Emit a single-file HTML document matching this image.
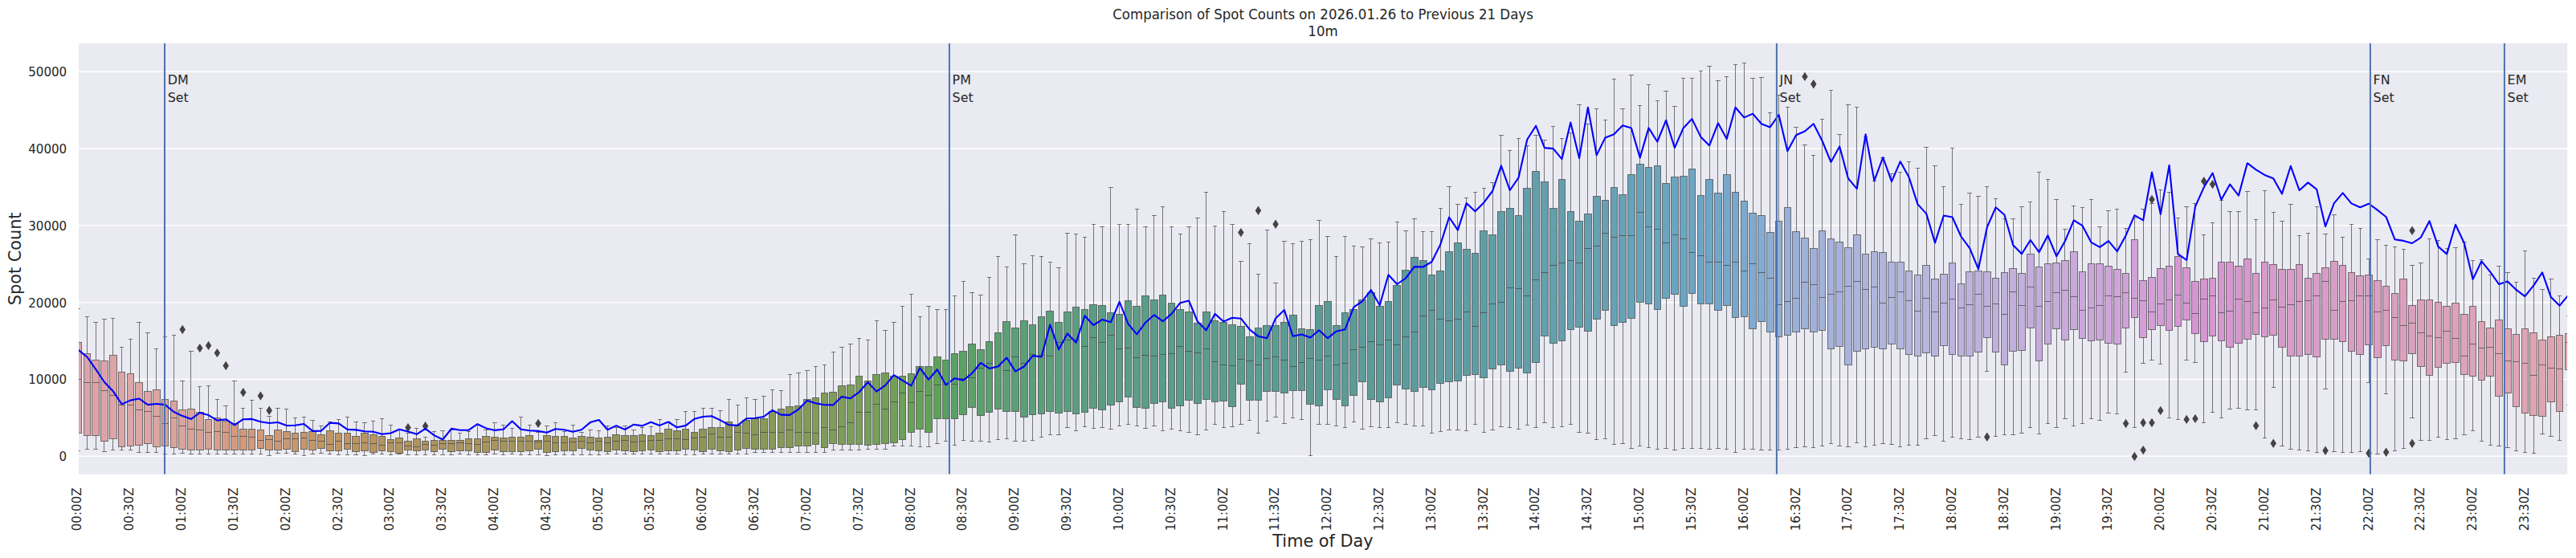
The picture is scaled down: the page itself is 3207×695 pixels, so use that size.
<!DOCTYPE html>
<html lang="en"><head><meta charset="utf-8"><title>Comparison of Spot Counts</title>
<style>html,body{margin:0;padding:0;background:#fff}svg{display:block}</style></head>
<body>
<svg width="3207" height="695" viewBox="0 0 3207 695">
<defs><clipPath id="ax"><rect x="98.0" y="53.8" width="3098.1" height="537.0"/></clipPath></defs>
<rect width="3207" height="695" fill="#fff"/>
<rect x="98.0" y="53.8" width="3098.1" height="537.0" fill="#eaeaf2"/>
<path d="M98.0 568.3H3196.1M98.0 472.5H3196.1M98.0 376.7H3196.1M98.0 280.8H3196.1M98.0 185H3196.1M98.0 89.2H3196.1" stroke="#fff" stroke-width="1.4" fill="none"/>
<g clip-path="url(#ax)">
<g stroke="#444" stroke-opacity="0.71" stroke-width="1">
<rect x="93.5" y="426.5" width="8" height="113" fill="#dba4ad"/>
<rect x="104.5" y="440.5" width="8" height="102" fill="#dba4ab"/>
<rect x="114.5" y="448.5" width="9" height="94" fill="#dca4aa"/>
<rect x="125.5" y="449.5" width="9" height="100" fill="#dca4a9"/>
<rect x="136.5" y="442.5" width="9" height="104" fill="#dca5a8"/>
<rect x="147.5" y="463.5" width="8" height="93" fill="#dca5a7"/>
<rect x="158.5" y="465.5" width="8" height="90" fill="#dca6a6"/>
<rect x="168.5" y="476.5" width="9" height="78" fill="#dda6a5"/>
<rect x="179.5" y="487.5" width="9" height="65" fill="#dca6a3"/>
<rect x="190.5" y="485.5" width="9" height="71" fill="#dba5a0"/>
<rect x="201.5" y="497.5" width="8" height="58" fill="#daa59f"/>
<rect x="212.5" y="499.5" width="8" height="58" fill="#daa49d"/>
<rect x="222.5" y="510.5" width="9" height="49" fill="#d9a49b"/>
<rect x="233.5" y="509.5" width="9" height="51" fill="#d8a399"/>
<rect x="244.5" y="513.5" width="9" height="47" fill="#d7a296"/>
<rect x="255.5" y="522.5" width="8" height="37" fill="#d6a193"/>
<rect x="266.5" y="520.5" width="8" height="40" fill="#d59f8d"/>
<rect x="276.5" y="524.5" width="9" height="36" fill="#d49c86"/>
<rect x="287.5" y="527.5" width="9" height="33" fill="#d39a7f"/>
<rect x="298.5" y="534.5" width="9" height="26" fill="#d29a7d"/>
<rect x="309.5" y="534.5" width="8" height="26" fill="#d09a7c"/>
<rect x="320.5" y="535.5" width="8" height="23" fill="#cf9a7a"/>
<rect x="330.5" y="542.5" width="9" height="18" fill="#cd9977"/>
<rect x="341.5" y="535.5" width="9" height="25" fill="#cb9975"/>
<rect x="352.5" y="537.5" width="9" height="22" fill="#c99872"/>
<rect x="363.5" y="539.5" width="8" height="23" fill="#c7976f"/>
<rect x="374.5" y="538.5" width="8" height="21" fill="#c5976c"/>
<rect x="384.5" y="537.5" width="9" height="23" fill="#c3966a"/>
<rect x="395.5" y="541.5" width="9" height="17" fill="#c19667"/>
<rect x="406.5" y="536.5" width="9" height="25" fill="#c09564"/>
<rect x="417.5" y="539.5" width="8" height="22" fill="#be9462"/>
<rect x="428.5" y="539.5" width="8" height="20" fill="#bc9461"/>
<rect x="438.5" y="543.5" width="9" height="19" fill="#ba9461"/>
<rect x="449.5" y="539.5" width="9" height="22" fill="#b99461"/>
<rect x="460.5" y="541.5" width="9" height="22" fill="#b79460"/>
<rect x="471.5" y="543.5" width="8" height="18" fill="#b69460"/>
<rect x="482.5" y="547.5" width="8" height="15" fill="#b49460"/>
<rect x="492.5" y="545.5" width="9" height="19" fill="#b3945f"/>
<rect x="503.5" y="549.5" width="9" height="11" fill="#b2945f"/>
<rect x="514.5" y="546.5" width="9" height="15" fill="#b0945f"/>
<rect x="525.5" y="549.5" width="8" height="11" fill="#af945f"/>
<rect x="536.5" y="548.5" width="8" height="14" fill="#ae945e"/>
<rect x="546.5" y="548.5" width="9" height="11" fill="#ad945e"/>
<rect x="557.5" y="548.5" width="9" height="14" fill="#ac945e"/>
<rect x="568.5" y="548.5" width="9" height="13" fill="#ab945e"/>
<rect x="579.5" y="546.5" width="8" height="15" fill="#aa945e"/>
<rect x="590.5" y="546.5" width="8" height="17" fill="#a9945d"/>
<rect x="600.5" y="543.5" width="9" height="20" fill="#a9945c"/>
<rect x="611.5" y="544.5" width="9" height="16" fill="#a8945c"/>
<rect x="622.5" y="545.5" width="9" height="17" fill="#a7945b"/>
<rect x="633.5" y="544.5" width="8" height="18" fill="#a6945b"/>
<rect x="644.5" y="544.5" width="8" height="18" fill="#a5945a"/>
<rect x="654.5" y="542.5" width="9" height="19" fill="#a4945a"/>
<rect x="665.5" y="548.5" width="9" height="11" fill="#a39459"/>
<rect x="676.5" y="542.5" width="9" height="21" fill="#a29459"/>
<rect x="687.5" y="543.5" width="8" height="19" fill="#a19459"/>
<rect x="698.5" y="543.5" width="8" height="18" fill="#9f9358"/>
<rect x="708.5" y="545.5" width="9" height="16" fill="#9e9358"/>
<rect x="719.5" y="543.5" width="9" height="15" fill="#9d9358"/>
<rect x="730.5" y="544.5" width="9" height="16" fill="#9b9358"/>
<rect x="741.5" y="545.5" width="8" height="16" fill="#9a9258"/>
<rect x="752.5" y="544.5" width="8" height="18" fill="#999258"/>
<rect x="762.5" y="541.5" width="9" height="19" fill="#989357"/>
<rect x="773.5" y="542.5" width="9" height="19" fill="#979357"/>
<rect x="784.5" y="542.5" width="9" height="20" fill="#969357"/>
<rect x="795.5" y="541.5" width="8" height="20" fill="#959356"/>
<rect x="806.5" y="542.5" width="8" height="18" fill="#949356"/>
<rect x="816.5" y="539.5" width="9" height="23" fill="#939356"/>
<rect x="827.5" y="534.5" width="9" height="27" fill="#929456"/>
<rect x="838.5" y="536.5" width="9" height="25" fill="#919456"/>
<rect x="849.5" y="534.5" width="8" height="25" fill="#919556"/>
<rect x="860.5" y="538.5" width="8" height="22" fill="#909557"/>
<rect x="870.5" y="534.5" width="9" height="28" fill="#8f9557"/>
<rect x="881.5" y="532.5" width="9" height="27" fill="#8e9657"/>
<rect x="892.5" y="532.5" width="9" height="29" fill="#8d9657"/>
<rect x="903.5" y="525.5" width="8" height="37" fill="#8c9757"/>
<rect x="914.5" y="529.5" width="8" height="31" fill="#8c9757"/>
<rect x="924.5" y="523.5" width="9" height="35" fill="#8b9857"/>
<rect x="935.5" y="521.5" width="9" height="38" fill="#8a9857"/>
<rect x="946.5" y="521.5" width="9" height="38" fill="#899958"/>
<rect x="957.5" y="512.5" width="8" height="47" fill="#889958"/>
<rect x="968.5" y="509.5" width="8" height="48" fill="#879a58"/>
<rect x="978.5" y="506.5" width="9" height="51" fill="#859a58"/>
<rect x="989.5" y="505.5" width="9" height="50" fill="#849b58"/>
<rect x="1000.5" y="497.5" width="9" height="58" fill="#839b58"/>
<rect x="1011.5" y="495.5" width="8" height="58" fill="#829c58"/>
<rect x="1022.5" y="489.5" width="8" height="68" fill="#809c59"/>
<rect x="1032.5" y="488.5" width="9" height="64" fill="#7f9d59"/>
<rect x="1043.5" y="480.5" width="9" height="73" fill="#7d9d59"/>
<rect x="1054.5" y="479.5" width="9" height="74" fill="#7c9e59"/>
<rect x="1065.5" y="468.5" width="8" height="85" fill="#7a9e59"/>
<rect x="1076.5" y="474.5" width="8" height="80" fill="#789f59"/>
<rect x="1086.5" y="466.5" width="9" height="87" fill="#769f59"/>
<rect x="1097.5" y="464.5" width="9" height="88" fill="#749f59"/>
<rect x="1108.5" y="468.5" width="9" height="83" fill="#71a059"/>
<rect x="1119.5" y="468.5" width="8" height="79" fill="#6ea059"/>
<rect x="1130.5" y="465.5" width="8" height="73" fill="#6ba059"/>
<rect x="1140.5" y="456.5" width="9" height="78" fill="#67a159"/>
<rect x="1151.5" y="456.5" width="9" height="82" fill="#63a159"/>
<rect x="1162.5" y="444.5" width="9" height="77" fill="#5ea259"/>
<rect x="1173.5" y="448.5" width="8" height="73" fill="#5aa25c"/>
<rect x="1184.5" y="440.5" width="8" height="81" fill="#5aa161"/>
<rect x="1194.5" y="437.5" width="9" height="79" fill="#5ba166"/>
<rect x="1205.5" y="428.5" width="9" height="79" fill="#5ba169"/>
<rect x="1216.5" y="435.5" width="9" height="82" fill="#5ba16c"/>
<rect x="1227.5" y="425.5" width="8" height="88" fill="#5ba06f"/>
<rect x="1238.5" y="414.5" width="8" height="95" fill="#5ba071"/>
<rect x="1248.5" y="400.5" width="9" height="112" fill="#5ba074"/>
<rect x="1259.5" y="408.5" width="9" height="104" fill="#5ba076"/>
<rect x="1270.5" y="399.5" width="9" height="120" fill="#5b9f77"/>
<rect x="1281.5" y="404.5" width="8" height="112" fill="#5b9f79"/>
<rect x="1292.5" y="394.5" width="8" height="121" fill="#5b9f7b"/>
<rect x="1302.5" y="387.5" width="9" height="125" fill="#5b9f7c"/>
<rect x="1313.5" y="401.5" width="9" height="113" fill="#5b9e7d"/>
<rect x="1324.5" y="388.5" width="9" height="124" fill="#5b9e7f"/>
<rect x="1335.5" y="382.5" width="8" height="133" fill="#5b9e80"/>
<rect x="1346.5" y="385.5" width="8" height="128" fill="#5b9e81"/>
<rect x="1356.5" y="379.5" width="9" height="129" fill="#5b9d82"/>
<rect x="1367.5" y="380.5" width="9" height="130" fill="#5b9d83"/>
<rect x="1378.5" y="389.5" width="9" height="115" fill="#5b9d84"/>
<rect x="1389.5" y="391.5" width="8" height="109" fill="#5b9d85"/>
<rect x="1400.5" y="374.5" width="8" height="120" fill="#5b9d86"/>
<rect x="1410.5" y="381.5" width="9" height="126" fill="#5b9d86"/>
<rect x="1421.5" y="368.5" width="9" height="140" fill="#5b9d87"/>
<rect x="1432.5" y="373.5" width="9" height="129" fill="#5b9c88"/>
<rect x="1443.5" y="367.5" width="8" height="133" fill="#5b9c89"/>
<rect x="1454.5" y="377.5" width="8" height="131" fill="#5b9c8a"/>
<rect x="1464.5" y="385.5" width="9" height="120" fill="#5b9c8b"/>
<rect x="1475.5" y="388.5" width="9" height="110" fill="#5b9c8b"/>
<rect x="1486.5" y="402.5" width="9" height="100" fill="#5b9c8c"/>
<rect x="1497.5" y="388.5" width="9" height="109" fill="#5b9c8d"/>
<rect x="1508.5" y="399.5" width="8" height="101" fill="#5b9c8d"/>
<rect x="1518.5" y="401.5" width="9" height="98" fill="#5b9c8e"/>
<rect x="1529.5" y="404.5" width="9" height="102" fill="#5b9c8f"/>
<rect x="1540.5" y="406.5" width="9" height="72" fill="#5c9c8f"/>
<rect x="1551.5" y="419.5" width="9" height="79" fill="#5c9c90"/>
<rect x="1562.5" y="408.5" width="8" height="90" fill="#5c9c91"/>
<rect x="1572.5" y="405.5" width="9" height="82" fill="#5c9c91"/>
<rect x="1583.5" y="405.5" width="9" height="82" fill="#5c9b92"/>
<rect x="1594.5" y="401.5" width="9" height="88" fill="#5c9b93"/>
<rect x="1605.5" y="392.5" width="9" height="94" fill="#5c9b93"/>
<rect x="1616.5" y="409.5" width="8" height="77" fill="#5c9b94"/>
<rect x="1626.5" y="410.5" width="9" height="93" fill="#5c9b94"/>
<rect x="1637.5" y="380.5" width="9" height="125" fill="#5c9b95"/>
<rect x="1648.5" y="375.5" width="9" height="110" fill="#5c9b95"/>
<rect x="1659.5" y="405.5" width="9" height="92" fill="#5c9b96"/>
<rect x="1670.5" y="389.5" width="8" height="116" fill="#5c9b97"/>
<rect x="1680.5" y="385.5" width="9" height="107" fill="#5c9b97"/>
<rect x="1691.5" y="373.5" width="9" height="102" fill="#5c9b98"/>
<rect x="1702.5" y="364.5" width="9" height="133" fill="#5c9b98"/>
<rect x="1713.5" y="381.5" width="9" height="119" fill="#5c9b99"/>
<rect x="1724.5" y="375.5" width="8" height="120" fill="#5c9b9a"/>
<rect x="1734.5" y="355.5" width="9" height="124" fill="#5c9b9b"/>
<rect x="1745.5" y="336.5" width="9" height="148" fill="#5c9c9c"/>
<rect x="1756.5" y="320.5" width="9" height="167" fill="#5c9c9d"/>
<rect x="1767.5" y="324.5" width="9" height="158" fill="#5c9c9e"/>
<rect x="1778.5" y="342.5" width="8" height="143" fill="#5d9c9f"/>
<rect x="1788.5" y="337.5" width="9" height="140" fill="#5d9da0"/>
<rect x="1799.5" y="313.5" width="9" height="162" fill="#5e9da1"/>
<rect x="1810.5" y="302.5" width="9" height="172" fill="#5e9da2"/>
<rect x="1821.5" y="310.5" width="9" height="157" fill="#5f9da3"/>
<rect x="1832.5" y="315.5" width="8" height="151" fill="#5f9da4"/>
<rect x="1842.5" y="287.5" width="9" height="183" fill="#609ea5"/>
<rect x="1853.5" y="292.5" width="9" height="167" fill="#609ea6"/>
<rect x="1864.5" y="263.5" width="9" height="191" fill="#619ea7"/>
<rect x="1875.5" y="259.5" width="9" height="203" fill="#619ea8"/>
<rect x="1886.5" y="268.5" width="8" height="190" fill="#629fa9"/>
<rect x="1896.5" y="234.5" width="9" height="230" fill="#629faa"/>
<rect x="1907.5" y="213.5" width="9" height="238" fill="#639fab"/>
<rect x="1918.5" y="226.5" width="9" height="192" fill="#639fac"/>
<rect x="1929.5" y="259.5" width="9" height="168" fill="#649fac"/>
<rect x="1940.5" y="223.5" width="8" height="201" fill="#649fad"/>
<rect x="1951.5" y="263.5" width="8" height="147" fill="#65a0ae"/>
<rect x="1961.5" y="275.5" width="9" height="132" fill="#66a0af"/>
<rect x="1972.5" y="266.5" width="9" height="146" fill="#66a0b0"/>
<rect x="1983.5" y="244.5" width="9" height="153" fill="#67a0b2"/>
<rect x="1994.5" y="249.5" width="8" height="137" fill="#67a1b3"/>
<rect x="2005.5" y="233.5" width="8" height="172" fill="#67a1b5"/>
<rect x="2015.5" y="242.5" width="9" height="159" fill="#68a2b6"/>
<rect x="2026.5" y="217.5" width="9" height="179" fill="#68a2b8"/>
<rect x="2037.5" y="204.5" width="9" height="172" fill="#69a3b9"/>
<rect x="2048.5" y="208.5" width="8" height="170" fill="#69a3bb"/>
<rect x="2059.5" y="206.5" width="8" height="179" fill="#6aa4bd"/>
<rect x="2069.5" y="228.5" width="9" height="143" fill="#6aa4be"/>
<rect x="2080.5" y="220.5" width="9" height="146" fill="#6ba4c0"/>
<rect x="2091.5" y="219.5" width="9" height="162" fill="#6ca5c2"/>
<rect x="2102.5" y="210.5" width="8" height="155" fill="#6da5c4"/>
<rect x="2113.5" y="243.5" width="8" height="135" fill="#6ea5c6"/>
<rect x="2123.5" y="223.5" width="9" height="155" fill="#6ea6c8"/>
<rect x="2134.5" y="240.5" width="9" height="146" fill="#72a7ca"/>
<rect x="2145.5" y="217.5" width="9" height="163" fill="#76a8cb"/>
<rect x="2156.5" y="239.5" width="8" height="156" fill="#79a8cd"/>
<rect x="2167.5" y="250.5" width="8" height="144" fill="#7da9ce"/>
<rect x="2177.5" y="265.5" width="9" height="144" fill="#81aad0"/>
<rect x="2188.5" y="268.5" width="9" height="132" fill="#85acd2"/>
<rect x="2199.5" y="289.5" width="9" height="124" fill="#8caed4"/>
<rect x="2210.5" y="275.5" width="8" height="144" fill="#91afd6"/>
<rect x="2221.5" y="258.5" width="8" height="159" fill="#96b0d7"/>
<rect x="2231.5" y="288.5" width="9" height="125" fill="#9ab0d8"/>
<rect x="2242.5" y="296.5" width="9" height="113" fill="#9db1d9"/>
<rect x="2253.5" y="309.5" width="9" height="104" fill="#9fb1da"/>
<rect x="2264.5" y="287.5" width="8" height="124" fill="#a2b2db"/>
<rect x="2275.5" y="297.5" width="8" height="137" fill="#a4b2db"/>
<rect x="2285.5" y="301.5" width="9" height="130" fill="#a6b2dc"/>
<rect x="2296.5" y="308.5" width="9" height="146" fill="#a8b3dc"/>
<rect x="2307.5" y="292.5" width="9" height="145" fill="#aab4dd"/>
<rect x="2318.5" y="316.5" width="8" height="118" fill="#acb4dd"/>
<rect x="2329.5" y="313.5" width="8" height="119" fill="#aeb5dd"/>
<rect x="2339.5" y="314.5" width="9" height="120" fill="#b0b5de"/>
<rect x="2350.5" y="326.5" width="9" height="102" fill="#b1b6de"/>
<rect x="2361.5" y="326.5" width="9" height="108" fill="#b3b6de"/>
<rect x="2372.5" y="337.5" width="8" height="104" fill="#b5b6de"/>
<rect x="2383.5" y="342.5" width="8" height="101" fill="#b6b6de"/>
<rect x="2393.5" y="330.5" width="9" height="109" fill="#b8b5de"/>
<rect x="2404.5" y="347.5" width="9" height="96" fill="#b9b4de"/>
<rect x="2415.5" y="341.5" width="9" height="89" fill="#bab4de"/>
<rect x="2426.5" y="327.5" width="8" height="114" fill="#bcb3de"/>
<rect x="2437.5" y="353.5" width="8" height="90" fill="#bdb2dd"/>
<rect x="2447.5" y="338.5" width="9" height="105" fill="#beb2dd"/>
<rect x="2458.5" y="337.5" width="9" height="101" fill="#bfb1dd"/>
<rect x="2469.5" y="338.5" width="9" height="82" fill="#c0b0dd"/>
<rect x="2480.5" y="346.5" width="8" height="92" fill="#c1b0dd"/>
<rect x="2491.5" y="339.5" width="8" height="115" fill="#c1afdd"/>
<rect x="2501.5" y="334.5" width="9" height="103" fill="#c2afdc"/>
<rect x="2512.5" y="340.5" width="9" height="96" fill="#c3aedc"/>
<rect x="2523.5" y="316.5" width="9" height="92" fill="#c4addc"/>
<rect x="2534.5" y="332.5" width="8" height="117" fill="#c5acdc"/>
<rect x="2545.5" y="328.5" width="8" height="100" fill="#c6acdc"/>
<rect x="2555.5" y="327.5" width="9" height="82" fill="#c7abdb"/>
<rect x="2566.5" y="324.5" width="9" height="99" fill="#c8aadb"/>
<rect x="2577.5" y="313.5" width="9" height="97" fill="#c9a9db"/>
<rect x="2588.5" y="338.5" width="8" height="83" fill="#caa8db"/>
<rect x="2599.5" y="328.5" width="8" height="96" fill="#cca7da"/>
<rect x="2609.5" y="328.5" width="9" height="95" fill="#cda6da"/>
<rect x="2620.5" y="331.5" width="9" height="96" fill="#cea5d9"/>
<rect x="2631.5" y="335.5" width="9" height="93" fill="#cfa4d8"/>
<rect x="2642.5" y="340.5" width="8" height="68" fill="#d0a3d8"/>
<rect x="2653.5" y="298.5" width="8" height="97" fill="#d1a1d7"/>
<rect x="2663.5" y="349.5" width="9" height="71" fill="#d2a0d6"/>
<rect x="2674.5" y="345.5" width="9" height="65" fill="#d39fd6"/>
<rect x="2685.5" y="334.5" width="9" height="71" fill="#d49dd5"/>
<rect x="2696.5" y="331.5" width="8" height="80" fill="#d49bd5"/>
<rect x="2707.5" y="319.5" width="8" height="87" fill="#d599d4"/>
<rect x="2717.5" y="333.5" width="9" height="65" fill="#d597d3"/>
<rect x="2728.5" y="350.5" width="9" height="65" fill="#d595d3"/>
<rect x="2739.5" y="347.5" width="9" height="78" fill="#d696d2"/>
<rect x="2750.5" y="346.5" width="8" height="72" fill="#d696d1"/>
<rect x="2761.5" y="326.5" width="8" height="98" fill="#d697d0"/>
<rect x="2771.5" y="326.5" width="9" height="106" fill="#d698cf"/>
<rect x="2782.5" y="331.5" width="9" height="96" fill="#d698cf"/>
<rect x="2793.5" y="322.5" width="9" height="100" fill="#d699ce"/>
<rect x="2804.5" y="340.5" width="8" height="76" fill="#d69acd"/>
<rect x="2815.5" y="326.5" width="8" height="93" fill="#d79acd"/>
<rect x="2825.5" y="329.5" width="9" height="88" fill="#d79bcc"/>
<rect x="2836.5" y="335.5" width="9" height="97" fill="#d79bcb"/>
<rect x="2847.5" y="335.5" width="9" height="108" fill="#d79ccb"/>
<rect x="2858.5" y="329.5" width="8" height="114" fill="#d79cca"/>
<rect x="2869.5" y="346.5" width="8" height="95" fill="#d79dc9"/>
<rect x="2879.5" y="340.5" width="9" height="104" fill="#d89dc8"/>
<rect x="2890.5" y="333.5" width="9" height="89" fill="#d89dc7"/>
<rect x="2901.5" y="325.5" width="9" height="97" fill="#d89ec6"/>
<rect x="2912.5" y="330.5" width="8" height="95" fill="#d99ec5"/>
<rect x="2923.5" y="339.5" width="8" height="98" fill="#d99ec4"/>
<rect x="2933.5" y="343.5" width="9" height="98" fill="#d99fc3"/>
<rect x="2944.5" y="342.5" width="9" height="87" fill="#d99fc2"/>
<rect x="2955.5" y="349.5" width="9" height="96" fill="#da9fc1"/>
<rect x="2966.5" y="356.5" width="8" height="74" fill="#da9fc0"/>
<rect x="2977.5" y="365.5" width="8" height="83" fill="#daa0bf"/>
<rect x="2987.5" y="347.5" width="9" height="102" fill="#dba0be"/>
<rect x="2998.5" y="380.5" width="9" height="60" fill="#dba0bd"/>
<rect x="3009.5" y="373.5" width="9" height="83" fill="#dba0bc"/>
<rect x="3020.5" y="373.5" width="8" height="94" fill="#dba1bb"/>
<rect x="3031.5" y="376.5" width="8" height="81" fill="#dca1bb"/>
<rect x="3041.5" y="381.5" width="9" height="71" fill="#dca2ba"/>
<rect x="3052.5" y="377.5" width="9" height="74" fill="#dca2b9"/>
<rect x="3063.5" y="391.5" width="9" height="75" fill="#dda3b9"/>
<rect x="3074.5" y="381.5" width="8" height="87" fill="#dda3b8"/>
<rect x="3085.5" y="400.5" width="8" height="73" fill="#dda4b8"/>
<rect x="3095.5" y="408.5" width="9" height="60" fill="#dea4b7"/>
<rect x="3106.5" y="398.5" width="9" height="95" fill="#dea5b6"/>
<rect x="3117.5" y="409.5" width="9" height="80" fill="#dea5b6"/>
<rect x="3128.5" y="416.5" width="8" height="90" fill="#dea5b5"/>
<rect x="3139.5" y="409.5" width="8" height="105" fill="#dea5b4"/>
<rect x="3149.5" y="414.5" width="9" height="103" fill="#dea5b3"/>
<rect x="3160.5" y="423.5" width="9" height="95" fill="#dea5b2"/>
<rect x="3171.5" y="419.5" width="9" height="81" fill="#dda5b1"/>
<rect x="3182.5" y="417.5" width="8" height="95" fill="#dda5af"/>
<rect x="3193.5" y="415.5" width="8" height="45" fill="#dda5ae"/>
</g>
<path d="M97.5 384.5V426.5M97.5 539.5V561.5M95 384.5H100M95 561.5H100M108.5 394.5V440.5M108.5 542.5V559.5M106 394.5H111M106 559.5H111M119.5 401.5V448.5M119.5 542.5V559.5M116 401.5H122M116 559.5H122M129.5 397.5V449.5M129.5 549.5V562.5M127 397.5H133M127 562.5H133M140.5 396.5V442.5M140.5 546.5V560.5M138 396.5H143M138 560.5H143M151.5 432.5V463.5M151.5 556.5V560.5M149 432.5H154M149 560.5H154M162.5 422.5V465.5M162.5 555.5V560.5M160 422.5H165M160 560.5H165M173.5 401.5V476.5M173.5 554.5V563.5M170 401.5H176M170 563.5H176M183.5 414.5V487.5M183.5 552.5V563.5M181 414.5H187M181 563.5H187M194.5 434.5V485.5M194.5 556.5V563.5M192 434.5H197M192 563.5H197M205.5 419.5V497.5M205.5 555.5V565.5M203 419.5H208M203 565.5H208M216.5 417.5V499.5M216.5 557.5V565.5M214 417.5H219M214 565.5H219M227.5 474.5V510.5M227.5 559.5V564.5M224 474.5H230M224 564.5H230M237.5 437.5V509.5M237.5 560.5V565.5M235 437.5H241M235 565.5H241M248.5 481.5V513.5M248.5 560.5V565.5M246 481.5H251M246 565.5H251M259.5 480.5V522.5M259.5 559.5V565.5M257 480.5H262M257 565.5H262M270.5 497.5V520.5M270.5 560.5V565.5M268 497.5H273M268 565.5H273M281.5 505.5V524.5M281.5 560.5V565.5M278 505.5H284M278 565.5H284M291.5 474.5V527.5M291.5 560.5V565.5M289 474.5H295M289 565.5H295M302.5 508.5V534.5M302.5 560.5V565.5M300 508.5H305M300 565.5H305M313.5 498.5V534.5M313.5 560.5V565.5M311 498.5H316M311 565.5H316M324.5 508.5V535.5M324.5 558.5V565.5M322 508.5H327M322 565.5H327M335.5 518.5V542.5M335.5 560.5V567.5M332 518.5H338M332 567.5H338M345.5 508.5V535.5M345.5 560.5V564.5M343 508.5H349M343 564.5H349M356.5 509.5V537.5M356.5 559.5V564.5M354 509.5H359M354 564.5H359M367.5 520.5V539.5M367.5 562.5V565.5M365 520.5H370M365 565.5H370M378.5 519.5V538.5M378.5 559.5V567.5M376 519.5H381M376 567.5H381M389.5 523.5V537.5M389.5 560.5V565.5M386 523.5H392M386 565.5H392M399.5 530.5V541.5M399.5 558.5V564.5M397 530.5H403M397 564.5H403M410.5 525.5V536.5M410.5 561.5V565.5M408 525.5H413M408 565.5H413M421.5 522.5V539.5M421.5 561.5V566.5M419 522.5H424M419 566.5H424M432.5 519.5V539.5M432.5 559.5V566.5M430 519.5H435M430 566.5H435M443.5 525.5V543.5M443.5 562.5V566.5M440 525.5H446M440 566.5H446M453.5 526.5V539.5M453.5 561.5V567.5M451 526.5H457M451 567.5H457M464.5 524.5V541.5M464.5 563.5V565.5M462 524.5H467M462 565.5H467M475.5 521.5V543.5M475.5 561.5V565.5M473 521.5H478M473 565.5H478M486.5 529.5V547.5M486.5 562.5V566.5M484 529.5H489M484 566.5H489M497.5 535.5V545.5M497.5 564.5V565.5M494 535.5H500M494 565.5H500M507.5 539.5V549.5M507.5 560.5V566.5M505 539.5H511M505 566.5H511M518.5 533.5V546.5M518.5 561.5V566.5M516 533.5H521M516 566.5H521M529.5 544.5V549.5M529.5 560.5V566.5M527 544.5H532M527 566.5H532M540.5 537.5V548.5M540.5 562.5V566.5M538 537.5H543M538 566.5H543M551.5 536.5V548.5M551.5 559.5V566.5M548 536.5H554M548 566.5H554M561.5 535.5V548.5M561.5 562.5V566.5M559 535.5H565M559 566.5H565M572.5 539.5V548.5M572.5 561.5V565.5M570 539.5H575M570 565.5H575M583.5 537.5V546.5M583.5 561.5V566.5M581 537.5H586M581 566.5H586M594.5 529.5V546.5M594.5 563.5V566.5M592 529.5H597M592 566.5H597M605.5 535.5V543.5M605.5 563.5V566.5M602 535.5H608M602 566.5H608M615.5 526.5V544.5M615.5 560.5V565.5M613 526.5H619M613 565.5H619M626.5 529.5V545.5M626.5 562.5V566.5M624 529.5H629M624 566.5H629M637.5 533.5V544.5M637.5 562.5V565.5M635 533.5H640M635 565.5H640M648.5 519.5V544.5M648.5 562.5V566.5M646 519.5H651M646 566.5H651M659.5 529.5V542.5M659.5 561.5V566.5M657 529.5H662M657 566.5H662M670.5 538.5V548.5M670.5 559.5V566.5M667 538.5H673M667 566.5H673M680.5 530.5V542.5M680.5 563.5V567.5M678 530.5H684M678 567.5H684M691.5 526.5V543.5M691.5 562.5V566.5M689 526.5H694M689 566.5H694M702.5 537.5V543.5M702.5 561.5V566.5M700 537.5H705M700 566.5H705M713.5 529.5V545.5M713.5 561.5V566.5M711 529.5H716M711 566.5H716M724.5 538.5V543.5M724.5 558.5V566.5M721 538.5H727M721 566.5H727M734.5 535.5V544.5M734.5 560.5V566.5M732 535.5H738M732 566.5H738M745.5 536.5V545.5M745.5 561.5V566.5M743 536.5H748M743 566.5H748M756.5 530.5V544.5M756.5 562.5V565.5M754 530.5H759M754 565.5H759M767.5 532.5V541.5M767.5 560.5V565.5M765 532.5H770M765 565.5H770M778.5 530.5V542.5M778.5 561.5V565.5M775 530.5H781M775 565.5H781M788.5 535.5V542.5M788.5 562.5V565.5M786 535.5H792M786 565.5H792M799.5 532.5V541.5M799.5 561.5V565.5M797 532.5H802M797 565.5H802M810.5 531.5V542.5M810.5 560.5V565.5M808 531.5H813M808 565.5H813M821.5 522.5V539.5M821.5 562.5V565.5M819 522.5H824M819 565.5H824M832.5 525.5V534.5M832.5 561.5V565.5M829 525.5H835M829 565.5H835M842.5 522.5V536.5M842.5 561.5V565.5M840 522.5H846M840 565.5H846M853.5 512.5V534.5M853.5 559.5V566.5M851 512.5H856M851 566.5H856M864.5 512.5V538.5M864.5 560.5V566.5M862 512.5H867M862 566.5H867M875.5 508.5V534.5M875.5 562.5V565.5M873 508.5H878M873 565.5H878M886.5 508.5V532.5M886.5 559.5V565.5M883 508.5H889M883 565.5H889M896.5 511.5V532.5M896.5 561.5V565.5M894 511.5H900M894 565.5H900M907.5 497.5V525.5M907.5 562.5V565.5M905 497.5H910M905 565.5H910M918.5 504.5V529.5M918.5 560.5V565.5M916 504.5H921M916 565.5H921M929.5 495.5V523.5M929.5 558.5V565.5M927 495.5H932M927 565.5H932M940.5 497.5V521.5M940.5 559.5V563.5M937 497.5H943M937 563.5H943M950.5 493.5V521.5M950.5 559.5V563.5M948 493.5H954M948 563.5H954M961.5 485.5V512.5M961.5 559.5V563.5M959 485.5H964M959 563.5H964M972.5 486.5V509.5M972.5 557.5V563.5M970 486.5H975M970 563.5H975M983.5 466.5V506.5M983.5 557.5V563.5M981 466.5H986M981 563.5H986M994.5 464.5V505.5M994.5 555.5V563.5M991 464.5H997M991 563.5H997M1004.5 461.5V497.5M1004.5 555.5V563.5M1002 461.5H1008M1002 563.5H1008M1015.5 456.5V495.5M1015.5 553.5V563.5M1013 456.5H1018M1013 563.5H1018M1026.5 454.5V489.5M1026.5 557.5V563.5M1024 454.5H1029M1024 563.5H1029M1037.5 438.5V488.5M1037.5 552.5V560.5M1035 438.5H1040M1035 560.5H1040M1048.5 432.5V480.5M1048.5 553.5V560.5M1045 432.5H1051M1045 560.5H1051M1058.5 428.5V479.5M1058.5 553.5V560.5M1056 428.5H1062M1056 560.5H1062M1069.5 421.5V468.5M1069.5 553.5V560.5M1067 421.5H1072M1067 560.5H1072M1080.5 423.5V474.5M1080.5 554.5V559.5M1078 423.5H1083M1078 559.5H1083M1091.5 399.5V466.5M1091.5 553.5V559.5M1089 399.5H1094M1089 559.5H1094M1102.5 411.5V464.5M1102.5 552.5V559.5M1099 411.5H1105M1099 559.5H1105M1112.5 401.5V468.5M1112.5 551.5V555.5M1110 401.5H1116M1110 555.5H1116M1123.5 381.5V468.5M1123.5 547.5V555.5M1121 381.5H1126M1121 555.5H1126M1134.5 366.5V465.5M1134.5 538.5V555.5M1132 366.5H1137M1132 555.5H1137M1145.5 394.5V456.5M1145.5 534.5V556.5M1143 394.5H1148M1143 556.5H1148M1156.5 381.5V456.5M1156.5 538.5V556.5M1153 381.5H1159M1153 556.5H1159M1166.5 385.5V444.5M1166.5 521.5V552.5M1164 385.5H1170M1164 552.5H1170M1177.5 385.5V448.5M1177.5 521.5V549.5M1175 385.5H1180M1175 549.5H1180M1188.5 368.5V440.5M1188.5 521.5V554.5M1186 368.5H1191M1186 554.5H1191M1199.5 350.5V437.5M1199.5 516.5V548.5M1197 350.5H1202M1197 548.5H1202M1210.5 364.5V428.5M1210.5 507.5V549.5M1207 364.5H1213M1207 549.5H1213M1220.5 367.5V435.5M1220.5 517.5V549.5M1218 367.5H1224M1218 549.5H1224M1231.5 345.5V425.5M1231.5 513.5V550.5M1229 345.5H1234M1229 550.5H1234M1242.5 319.5V414.5M1242.5 509.5V547.5M1240 319.5H1245M1240 547.5H1245M1253.5 332.5V400.5M1253.5 512.5V546.5M1251 332.5H1256M1251 546.5H1256M1264.5 292.5V408.5M1264.5 512.5V549.5M1261 292.5H1267M1261 549.5H1267M1274.5 328.5V399.5M1274.5 519.5V549.5M1272 328.5H1278M1272 549.5H1278M1285.5 318.5V404.5M1285.5 516.5V548.5M1283 318.5H1288M1283 548.5H1288M1296.5 319.5V394.5M1296.5 515.5V544.5M1294 319.5H1299M1294 544.5H1299M1307.5 326.5V387.5M1307.5 512.5V541.5M1305 326.5H1310M1305 541.5H1310M1318.5 333.5V401.5M1318.5 514.5V541.5M1315 333.5H1321M1315 541.5H1321M1328.5 290.5V388.5M1328.5 512.5V532.5M1326 290.5H1332M1326 532.5H1332M1339.5 291.5V382.5M1339.5 515.5V536.5M1337 291.5H1342M1337 536.5H1342M1350.5 295.5V385.5M1350.5 513.5V531.5M1348 295.5H1353M1348 531.5H1353M1361.5 279.5V379.5M1361.5 508.5V533.5M1359 279.5H1364M1359 533.5H1364M1372.5 282.5V380.5M1372.5 510.5V532.5M1369 282.5H1375M1369 532.5H1375M1382.5 233.5V389.5M1382.5 504.5V534.5M1380 233.5H1386M1380 534.5H1386M1393.5 279.5V391.5M1393.5 500.5V530.5M1391 279.5H1396M1391 530.5H1396M1404.5 279.5V374.5M1404.5 494.5V528.5M1402 279.5H1407M1402 528.5H1407M1415.5 260.5V381.5M1415.5 507.5V530.5M1413 260.5H1418M1413 530.5H1418M1426.5 282.5V368.5M1426.5 508.5V533.5M1423 282.5H1429M1423 533.5H1429M1436.5 268.5V373.5M1436.5 502.5V530.5M1434 268.5H1440M1434 530.5H1440M1447.5 257.5V367.5M1447.5 500.5V536.5M1445 257.5H1450M1445 536.5H1450M1458.5 282.5V377.5M1458.5 508.5V534.5M1456 282.5H1461M1456 534.5H1461M1469.5 291.5V385.5M1469.5 505.5V536.5M1467 291.5H1472M1467 536.5H1472M1480.5 282.5V388.5M1480.5 498.5V538.5M1477 282.5H1483M1477 538.5H1483M1490.5 271.5V402.5M1490.5 502.5V541.5M1488 271.5H1494M1488 541.5H1494M1501.5 239.5V388.5M1501.5 497.5V535.5M1499 239.5H1504M1499 535.5H1504M1512.5 281.5V399.5M1512.5 500.5V528.5M1510 281.5H1515M1510 528.5H1515M1523.5 263.5V401.5M1523.5 499.5V532.5M1521 263.5H1526M1521 532.5H1526M1534.5 279.5V404.5M1534.5 506.5V531.5M1531 279.5H1537M1531 531.5H1537M1544.5 325.5V406.5M1544.5 478.5V528.5M1542 325.5H1548M1542 528.5H1548M1555.5 303.5V419.5M1555.5 498.5V523.5M1553 303.5H1558M1553 523.5H1558M1566.5 341.5V408.5M1566.5 498.5V539.5M1564 341.5H1569M1564 539.5H1569M1577.5 286.5V405.5M1577.5 487.5V524.5M1575 286.5H1580M1575 524.5H1580M1588.5 352.5V405.5M1588.5 487.5V519.5M1585 352.5H1591M1585 519.5H1591M1598.5 300.5V401.5M1598.5 489.5V527.5M1596 300.5H1602M1596 527.5H1602M1609.5 303.5V392.5M1609.5 486.5V520.5M1607 303.5H1612M1607 520.5H1612M1620.5 300.5V409.5M1620.5 486.5V522.5M1618 300.5H1623M1618 522.5H1623M1631.5 298.5V410.5M1631.5 503.5V567.5M1629 298.5H1634M1629 567.5H1634M1642.5 274.5V380.5M1642.5 505.5V528.5M1639 274.5H1645M1639 528.5H1645M1652.5 294.5V375.5M1652.5 485.5V528.5M1650 294.5H1656M1650 528.5H1656M1663.5 319.5V405.5M1663.5 497.5V530.5M1661 319.5H1666M1661 530.5H1666M1674.5 294.5V389.5M1674.5 505.5V532.5M1672 294.5H1677M1672 532.5H1677M1685.5 306.5V385.5M1685.5 492.5V525.5M1683 306.5H1688M1683 525.5H1688M1696.5 307.5V373.5M1696.5 475.5V534.5M1693 307.5H1699M1693 534.5H1699M1706.5 297.5V364.5M1706.5 497.5V531.5M1704 297.5H1710M1704 531.5H1710M1717.5 302.5V381.5M1717.5 500.5V532.5M1715 302.5H1720M1715 532.5H1720M1728.5 301.5V375.5M1728.5 495.5V532.5M1726 301.5H1731M1726 532.5H1731M1739.5 276.5V355.5M1739.5 479.5V526.5M1737 276.5H1742M1737 526.5H1742M1750.5 287.5V336.5M1750.5 484.5V528.5M1747 287.5H1753M1747 528.5H1753M1760.5 272.5V320.5M1760.5 487.5V530.5M1758 272.5H1764M1758 530.5H1764M1771.5 288.5V324.5M1771.5 482.5V530.5M1769 288.5H1774M1769 530.5H1774M1782.5 288.5V342.5M1782.5 485.5V539.5M1780 288.5H1785M1780 539.5H1785M1793.5 259.5V337.5M1793.5 477.5V537.5M1791 259.5H1796M1791 537.5H1796M1804.5 232.5V313.5M1804.5 475.5V535.5M1801 232.5H1807M1801 535.5H1807M1814.5 254.5V302.5M1814.5 474.5V535.5M1812 254.5H1818M1812 535.5H1818M1825.5 246.5V310.5M1825.5 467.5V536.5M1823 246.5H1828M1823 536.5H1828M1836.5 239.5V315.5M1836.5 466.5V528.5M1834 239.5H1839M1834 528.5H1839M1847.5 234.5V287.5M1847.5 470.5V538.5M1845 234.5H1850M1845 538.5H1850M1858.5 227.5V292.5M1858.5 459.5V535.5M1855 227.5H1861M1855 535.5H1861M1868.5 168.5V263.5M1868.5 454.5V531.5M1866 168.5H1872M1866 531.5H1872M1879.5 187.5V259.5M1879.5 462.5V532.5M1877 187.5H1882M1877 532.5H1882M1890.5 172.5V268.5M1890.5 458.5V534.5M1888 172.5H1893M1888 534.5H1893M1901.5 181.5V234.5M1901.5 464.5V529.5M1899 181.5H1904M1899 529.5H1904M1912.5 168.5V213.5M1912.5 451.5V532.5M1909 168.5H1915M1909 532.5H1915M1922.5 174.5V226.5M1922.5 418.5V526.5M1920 174.5H1926M1920 526.5H1926M1933.5 157.5V259.5M1933.5 427.5V532.5M1931 157.5H1936M1931 532.5H1936M1944.5 172.5V223.5M1944.5 424.5V531.5M1942 172.5H1947M1942 531.5H1947M1955.5 165.5V263.5M1955.5 410.5V528.5M1953 165.5H1958M1953 528.5H1958M1966.5 130.5V275.5M1966.5 407.5V538.5M1963 130.5H1969M1963 538.5H1969M1976.5 154.5V266.5M1976.5 412.5V539.5M1974 154.5H1980M1974 539.5H1980M1987.5 135.5V244.5M1987.5 397.5V547.5M1985 135.5H1990M1985 547.5H1990M1998.5 149.5V249.5M1998.5 386.5V546.5M1996 149.5H2001M1996 546.5H2001M2009.5 98.5V233.5M2009.5 405.5V553.5M2007 98.5H2012M2007 553.5H2012M2020.5 135.5V242.5M2020.5 401.5V552.5M2017 135.5H2023M2017 552.5H2023M2030.5 93.5V217.5M2030.5 396.5V558.5M2028 93.5H2034M2028 558.5H2034M2041.5 131.5V204.5M2041.5 376.5V555.5M2039 131.5H2044M2039 555.5H2044M2052.5 105.5V208.5M2052.5 378.5V557.5M2050 105.5H2055M2050 557.5H2055M2063.5 125.5V206.5M2063.5 385.5V559.5M2061 125.5H2066M2061 559.5H2066M2074.5 113.5V228.5M2074.5 371.5V558.5M2071 113.5H2077M2071 558.5H2077M2084.5 132.5V220.5M2084.5 366.5V560.5M2082 132.5H2088M2082 560.5H2088M2095.5 97.5V219.5M2095.5 381.5V558.5M2093 97.5H2098M2093 558.5H2098M2106.5 97.5V210.5M2106.5 365.5V558.5M2104 97.5H2109M2104 558.5H2109M2117.5 88.5V243.5M2117.5 378.5V558.5M2115 88.5H2120M2115 558.5H2120M2128.5 82.5V223.5M2128.5 378.5V559.5M2125 82.5H2131M2125 559.5H2131M2138.5 100.5V240.5M2138.5 386.5V558.5M2136 100.5H2142M2136 558.5H2142M2149.5 95.5V217.5M2149.5 380.5V559.5M2147 95.5H2152M2147 559.5H2152M2160.5 80.5V239.5M2160.5 395.5V563.5M2158 80.5H2163M2158 563.5H2163M2171.5 78.5V250.5M2171.5 394.5V559.5M2169 78.5H2174M2169 559.5H2174M2182.5 97.5V265.5M2182.5 409.5V559.5M2179 97.5H2185M2179 559.5H2185M2192.5 96.5V268.5M2192.5 400.5V560.5M2190 96.5H2196M2190 560.5H2196M2203.5 140.5V289.5M2203.5 413.5V560.5M2201 140.5H2206M2201 560.5H2206M2214.5 118.5V275.5M2214.5 419.5V560.5M2212 118.5H2217M2212 560.5H2217M2225.5 133.5V258.5M2225.5 417.5V559.5M2223 133.5H2228M2223 559.5H2228M2236.5 158.5V288.5M2236.5 413.5V557.5M2233 158.5H2239M2233 557.5H2239M2246.5 180.5V296.5M2246.5 409.5V556.5M2244 180.5H2250M2244 556.5H2250M2257.5 193.5V309.5M2257.5 413.5V557.5M2255 193.5H2260M2255 557.5H2260M2268.5 148.5V287.5M2268.5 411.5V555.5M2266 148.5H2271M2266 555.5H2271M2279.5 112.5V297.5M2279.5 434.5V552.5M2277 112.5H2282M2277 552.5H2282M2290.5 167.5V301.5M2290.5 431.5V555.5M2287 167.5H2293M2287 555.5H2293M2300.5 130.5V308.5M2300.5 454.5V556.5M2298 130.5H2304M2298 556.5H2304M2311.5 133.5V292.5M2311.5 437.5V551.5M2309 133.5H2314M2309 551.5H2314M2322.5 170.5V316.5M2322.5 434.5V556.5M2320 170.5H2325M2320 556.5H2325M2333.5 225.5V313.5M2333.5 432.5V554.5M2331 225.5H2336M2331 554.5H2336M2344.5 196.5V314.5M2344.5 434.5V552.5M2341 196.5H2347M2341 552.5H2347M2354.5 216.5V326.5M2354.5 428.5V553.5M2352 216.5H2358M2352 553.5H2358M2365.5 214.5V326.5M2365.5 434.5V556.5M2363 214.5H2368M2363 556.5H2368M2376.5 201.5V337.5M2376.5 441.5V554.5M2374 201.5H2379M2374 554.5H2379M2387.5 209.5V342.5M2387.5 443.5V554.5M2385 209.5H2390M2385 554.5H2390M2398.5 183.5V330.5M2398.5 439.5V546.5M2395 183.5H2401M2395 546.5H2401M2408.5 206.5V347.5M2408.5 443.5V542.5M2406 206.5H2412M2406 542.5H2412M2419.5 232.5V341.5M2419.5 430.5V549.5M2417 232.5H2422M2417 549.5H2422M2430.5 184.5V327.5M2430.5 441.5V544.5M2428 184.5H2433M2428 544.5H2433M2441.5 254.5V353.5M2441.5 443.5V546.5M2439 254.5H2444M2439 546.5H2444M2452.5 240.5V338.5M2452.5 443.5V547.5M2449 240.5H2455M2449 547.5H2455M2462.5 244.5V337.5M2462.5 438.5V544.5M2460 244.5H2466M2460 544.5H2466M2473.5 232.5V338.5M2473.5 420.5V462.5M2471 232.5H2476M2471 462.5H2476M2484.5 247.5V346.5M2484.5 438.5V543.5M2482 247.5H2487M2482 543.5H2487M2495.5 272.5V339.5M2495.5 454.5V541.5M2493 272.5H2498M2493 541.5H2498M2506.5 272.5V334.5M2506.5 437.5V541.5M2503 272.5H2509M2503 541.5H2509M2516.5 257.5V340.5M2516.5 436.5V539.5M2514 257.5H2520M2514 539.5H2520M2527.5 251.5V316.5M2527.5 408.5V532.5M2525 251.5H2530M2525 532.5H2530M2538.5 214.5V332.5M2538.5 449.5V540.5M2536 214.5H2541M2536 540.5H2541M2549.5 223.5V328.5M2549.5 428.5V527.5M2547 223.5H2552M2547 527.5H2552M2560.5 248.5V327.5M2560.5 409.5V532.5M2557 248.5H2563M2557 532.5H2563M2570.5 285.5V324.5M2570.5 423.5V521.5M2568 285.5H2574M2568 521.5H2574M2581.5 256.5V313.5M2581.5 410.5V530.5M2579 256.5H2584M2579 530.5H2584M2592.5 258.5V338.5M2592.5 421.5V527.5M2590 258.5H2595M2590 527.5H2595M2603.5 248.5V328.5M2603.5 424.5V521.5M2601 248.5H2606M2601 521.5H2606M2614.5 282.5V328.5M2614.5 423.5V523.5M2611 282.5H2617M2611 523.5H2617M2624.5 262.5V331.5M2624.5 427.5V514.5M2622 262.5H2628M2622 514.5H2628M2635.5 260.5V335.5M2635.5 428.5V515.5M2633 260.5H2638M2633 515.5H2638M2646.5 284.5V340.5M2646.5 408.5V463.5M2644 284.5H2649M2644 463.5H2649M2657.5 271.5V298.5M2657.5 395.5V532.5M2655 271.5H2660M2655 532.5H2660M2668.5 260.5V349.5M2668.5 420.5V452.5M2665 260.5H2671M2665 452.5H2671M2678.5 253.5V345.5M2678.5 410.5V448.5M2676 253.5H2682M2676 448.5H2682M2689.5 236.5V334.5M2689.5 405.5V453.5M2687 236.5H2692M2687 453.5H2692M2700.5 239.5V331.5M2700.5 411.5V520.5M2698 239.5H2703M2698 520.5H2703M2711.5 271.5V319.5M2711.5 406.5V522.5M2709 271.5H2714M2709 522.5H2714M2722.5 257.5V333.5M2722.5 398.5V448.5M2719 257.5H2725M2719 448.5H2725M2732.5 253.5V350.5M2732.5 415.5V451.5M2730 253.5H2736M2730 451.5H2736M2743.5 292.5V347.5M2743.5 425.5V526.5M2741 292.5H2746M2741 526.5H2746M2754.5 277.5V346.5M2754.5 418.5V513.5M2752 277.5H2757M2752 513.5H2757M2765.5 249.5V326.5M2765.5 424.5V520.5M2763 249.5H2768M2763 520.5H2768M2776.5 263.5V326.5M2776.5 432.5V509.5M2773 263.5H2779M2773 509.5H2779M2786.5 263.5V331.5M2786.5 427.5V508.5M2784 263.5H2790M2784 508.5H2790M2797.5 238.5V322.5M2797.5 422.5V510.5M2795 238.5H2801M2795 510.5H2801M2808.5 273.5V340.5M2808.5 416.5V510.5M2806 273.5H2811M2806 510.5H2811M2819.5 237.5V326.5M2819.5 419.5V545.5M2817 237.5H2822M2817 545.5H2822M2830.5 264.5V329.5M2830.5 417.5V482.5M2828 264.5H2833M2828 482.5H2833M2841.5 275.5V335.5M2841.5 432.5V555.5M2838 275.5H2844M2838 555.5H2844M2851.5 254.5V335.5M2851.5 443.5V559.5M2849 254.5H2855M2849 559.5H2855M2862.5 293.5V329.5M2862.5 443.5V560.5M2860 293.5H2865M2860 560.5H2865M2873.5 290.5V346.5M2873.5 441.5V561.5M2871 290.5H2876M2871 561.5H2876M2884.5 257.5V340.5M2884.5 444.5V563.5M2882 257.5H2887M2882 563.5H2887M2895.5 291.5V333.5M2895.5 422.5V484.5M2892 291.5H2898M2892 484.5H2898M2905.5 267.5V325.5M2905.5 422.5V562.5M2903 267.5H2909M2903 562.5H2909M2916.5 295.5V330.5M2916.5 425.5V563.5M2914 295.5H2919M2914 563.5H2919M2927.5 279.5V339.5M2927.5 437.5V563.5M2925 279.5H2930M2925 563.5H2930M2938.5 284.5V343.5M2938.5 441.5V562.5M2936 284.5H2941M2936 562.5H2941M2949.5 322.5V342.5M2949.5 429.5V476.5M2946 322.5H2952M2946 476.5H2952M2959.5 298.5V349.5M2959.5 445.5V565.5M2957 298.5H2963M2957 565.5H2963M2970.5 305.5V356.5M2970.5 430.5V490.5M2968 305.5H2973M2968 490.5H2973M2981.5 307.5V365.5M2981.5 448.5V561.5M2979 307.5H2984M2979 561.5H2984M2992.5 310.5V347.5M2992.5 449.5V558.5M2990 310.5H2995M2990 558.5H2995M3003.5 330.5V380.5M3003.5 440.5V520.5M3000 330.5H3006M3000 520.5H3006M3013.5 327.5V373.5M3013.5 456.5V548.5M3011 327.5H3017M3011 548.5H3017M3024.5 297.5V373.5M3024.5 467.5V548.5M3022 297.5H3027M3022 548.5H3027M3035.5 299.5V376.5M3035.5 457.5V544.5M3033 299.5H3038M3033 544.5H3038M3046.5 309.5V381.5M3046.5 452.5V547.5M3044 309.5H3049M3044 547.5H3049M3057.5 308.5V377.5M3057.5 451.5V546.5M3054 308.5H3060M3054 546.5H3060M3067.5 301.5V391.5M3067.5 466.5V541.5M3065 301.5H3071M3065 541.5H3071M3078.5 324.5V381.5M3078.5 468.5V536.5M3076 324.5H3081M3076 536.5H3081M3089.5 323.5V400.5M3089.5 473.5V549.5M3087 323.5H3092M3087 549.5H3092M3100.5 342.5V408.5M3100.5 468.5V554.5M3098 342.5H3103M3098 554.5H3103M3111.5 331.5V398.5M3111.5 493.5V555.5M3108 331.5H3114M3108 555.5H3114M3121.5 339.5V409.5M3121.5 489.5V557.5M3119 339.5H3125M3119 557.5H3125M3132.5 351.5V416.5M3132.5 506.5V561.5M3130 351.5H3135M3130 561.5H3135M3143.5 312.5V409.5M3143.5 514.5V563.5M3141 312.5H3146M3141 563.5H3146M3154.5 346.5V414.5M3154.5 517.5V564.5M3152 346.5H3157M3152 564.5H3157M3165.5 360.5V423.5M3165.5 518.5V540.5M3162 360.5H3168M3162 540.5H3168M3175.5 347.5V419.5M3175.5 500.5V543.5M3173 347.5H3179M3173 543.5H3179M3186.5 368.5V417.5M3186.5 512.5V548.5M3184 368.5H3189M3184 548.5H3189M3197.5 393.5V415.5M3197.5 460.5V504.5M3195 393.5H3200M3195 504.5H3200" fill="none" stroke="#444" stroke-opacity="0.71" stroke-width="1"/>
<path d="M227.2 404.8L230.9 410.5L227.2 416.2L223.4 410.5ZM248.8 427.9L252.5 433.6L248.8 439.3L245 433.6ZM259.6 424.7L263.3 430.4L259.6 436.1L255.8 430.4ZM270.4 433.9L274.1 439.6L270.4 445.3L266.6 439.6ZM281.2 449.8L284.9 455.5L281.2 461.2L277.4 455.5ZM302.8 483L306.5 488.7L302.8 494.4L299 488.7ZM324.4 487.4L328.1 493.1L324.4 498.8L320.6 493.1ZM335.2 505.5L338.9 511.2L335.2 516.9L331.4 511.2ZM508 526.9L511.7 532.6L508 538.3L504.2 532.6ZM529.6 525L533.3 530.7L529.6 536.4L525.8 530.7ZM670 521.7L673.8 527.4L670 533.1L666.3 527.4ZM1544.9 283.9L1548.6 289.6L1544.9 295.3L1541.1 289.6ZM1566.5 256.5L1570.2 262.2L1566.5 267.9L1562.7 262.2ZM1588.1 273.6L1591.8 279.3L1588.1 285L1584.3 279.3ZM2246.9 89.7L2250.7 95.4L2246.9 101.1L2243.2 95.4ZM2257.8 99L2261.5 104.7L2257.8 110.4L2254 104.7ZM2473.8 538.6L2477.5 544.3L2473.8 550L2470 544.3ZM2646.6 521.8L2650.3 527.5L2646.6 533.2L2642.8 527.5ZM2657.4 562.8L2661.1 568.5L2657.4 574.2L2653.6 568.5ZM2668.2 520.8L2671.9 526.5L2668.2 532.2L2664.4 526.5ZM2668.2 554.9L2671.9 560.6L2668.2 566.3L2664.4 560.6ZM2679 520.8L2682.7 526.5L2679 532.2L2675.2 526.5ZM2689.8 505.7L2693.5 511.4L2689.8 517.1L2686 511.4ZM2722.2 516.7L2725.9 522.4L2722.2 528.1L2718.4 522.4ZM2733 515.7L2736.7 521.4L2733 527.1L2729.2 521.4ZM2808.6 524.6L2812.4 530.3L2808.6 536L2804.9 530.3ZM2830.2 546.5L2834 552.2L2830.2 557.9L2826.5 552.2ZM2679 242.7L2682.7 248.4L2679 254.1L2675.2 248.4ZM2743.8 220.1L2747.5 225.8L2743.8 231.5L2740 225.8ZM2754.6 223.9L2758.3 229.6L2754.6 235.3L2750.8 229.6ZM2895 555.5L2898.8 561.2L2895 566.9L2891.3 561.2ZM2949 558.8L2952.8 564.5L2949 570.2L2945.3 564.5ZM2970.6 557.5L2974.4 563.2L2970.6 568.9L2966.9 563.2ZM3003 546.5L3006.8 552.2L3003 557.9L2999.3 552.2ZM3003 281.6L3006.8 287.3L3003 293L2999.3 287.3Z" fill="#444"/>
<path d="M93.5 472.5H101.5M104.5 476.5H112.5M114.5 476.5H123.5M125.5 486.5H134.5M136.5 492.5H145.5M147.5 504.5H155.5M158.5 504.5H166.5M168.5 510.5H177.5M179.5 512.5H188.5M190.5 518.5H199.5M201.5 527.5H209.5M212.5 520.5H220.5M222.5 530.5H231.5M233.5 534.5H242.5M244.5 535.5H253.5M255.5 538.5H263.5M266.5 537.5H274.5M276.5 538.5H285.5M287.5 543.5H296.5M298.5 543.5H307.5M309.5 544.5H317.5M320.5 548.5H328.5M330.5 547.5H339.5M341.5 549.5H350.5M352.5 546.5H361.5M363.5 546.5H371.5M374.5 545.5H382.5M384.5 548.5H393.5M395.5 549.5H404.5M406.5 553.5H415.5M417.5 549.5H425.5M428.5 552.5H436.5M438.5 552.5H447.5M449.5 551.5H458.5M460.5 552.5H469.5M471.5 554.5H479.5M482.5 551.5H490.5M492.5 551.5H501.5M503.5 555.5H512.5M514.5 556.5H523.5M525.5 553.5H533.5M536.5 554.5H544.5M546.5 552.5H555.5M557.5 552.5H566.5M568.5 551.5H577.5M579.5 552.5H587.5M590.5 553.5H598.5M600.5 550.5H609.5M611.5 548.5H620.5M622.5 549.5H631.5M633.5 549.5H641.5M644.5 549.5H652.5M654.5 549.5H663.5M665.5 550.5H674.5M676.5 549.5H685.5M687.5 551.5H695.5M698.5 551.5H706.5M708.5 550.5H717.5M719.5 549.5H728.5M730.5 551.5H739.5M741.5 549.5H749.5M752.5 551.5H760.5M762.5 549.5H771.5M773.5 548.5H782.5M784.5 550.5H793.5M795.5 549.5H803.5M806.5 548.5H814.5M816.5 548.5H825.5M827.5 546.5H836.5M838.5 546.5H847.5M849.5 547.5H857.5M860.5 545.5H868.5M870.5 544.5H879.5M881.5 540.5H890.5M892.5 544.5H901.5M903.5 544.5H911.5M914.5 538.5H922.5M924.5 539.5H933.5M935.5 541.5H944.5M946.5 538.5H955.5M957.5 538.5H965.5M968.5 538.5H976.5M978.5 535.5H987.5M989.5 538.5H998.5M1000.5 538.5H1009.5M1011.5 539.5H1019.5M1022.5 532.5H1030.5M1032.5 535.5H1041.5M1043.5 531.5H1052.5M1054.5 526.5H1063.5M1065.5 513.5H1073.5M1076.5 513.5H1084.5M1086.5 503.5H1095.5M1097.5 509.5H1106.5M1108.5 500.5H1117.5M1119.5 489.5H1127.5M1130.5 501.5H1138.5M1140.5 487.5H1149.5M1151.5 492.5H1160.5M1162.5 479.5H1171.5M1173.5 478.5H1181.5M1184.5 478.5H1192.5M1194.5 471.5H1203.5M1205.5 470.5H1214.5M1216.5 458.5H1225.5M1227.5 452.5H1235.5M1238.5 456.5H1246.5M1248.5 461.5H1257.5M1259.5 444.5H1268.5M1270.5 452.5H1279.5M1281.5 441.5H1289.5M1292.5 442.5H1300.5M1302.5 443.5H1311.5M1313.5 426.5H1322.5M1324.5 423.5H1333.5M1335.5 423.5H1343.5M1346.5 431.5H1354.5M1356.5 420.5H1365.5M1367.5 426.5H1376.5M1378.5 417.5H1387.5M1389.5 434.5H1397.5M1400.5 433.5H1408.5M1410.5 445.5H1419.5M1421.5 442.5H1430.5M1432.5 443.5H1441.5M1443.5 441.5H1451.5M1454.5 440.5H1462.5M1464.5 431.5H1473.5M1475.5 437.5H1484.5M1486.5 439.5H1495.5M1497.5 434.5H1506.5M1508.5 450.5H1516.5M1518.5 454.5H1527.5M1529.5 455.5H1538.5M1540.5 447.5H1549.5M1551.5 449.5H1560.5M1562.5 454.5H1570.5M1572.5 446.5H1581.5M1583.5 444.5H1592.5M1594.5 448.5H1603.5M1605.5 456.5H1614.5M1616.5 451.5H1624.5M1626.5 446.5H1635.5M1637.5 448.5H1646.5M1648.5 443.5H1657.5M1659.5 454.5H1668.5M1670.5 452.5H1678.5M1680.5 435.5H1689.5M1691.5 432.5H1700.5M1702.5 425.5H1711.5M1713.5 429.5H1722.5M1724.5 423.5H1732.5M1734.5 429.5H1743.5M1745.5 419.5H1754.5M1756.5 413.5H1765.5M1767.5 393.5H1776.5M1778.5 386.5H1786.5M1788.5 397.5H1797.5M1799.5 399.5H1808.5M1810.5 397.5H1819.5M1821.5 388.5H1830.5M1832.5 406.5H1840.5M1842.5 389.5H1851.5M1853.5 378.5H1862.5M1864.5 376.5H1873.5M1875.5 358.5H1884.5M1886.5 359.5H1894.5M1896.5 368.5H1905.5M1907.5 348.5H1916.5M1918.5 339.5H1927.5M1929.5 330.5H1938.5M1940.5 327.5H1948.5M1951.5 324.5H1959.5M1961.5 327.5H1970.5M1972.5 309.5H1981.5M1983.5 306.5H1992.5M1994.5 290.5H2002.5M2005.5 295.5H2013.5M2015.5 293.5H2024.5M2026.5 293.5H2035.5M2037.5 264.5H2046.5M2048.5 282.5H2056.5M2059.5 285.5H2067.5M2069.5 302.5H2078.5M2080.5 292.5H2089.5M2091.5 297.5H2100.5M2102.5 314.5H2110.5M2113.5 318.5H2121.5M2123.5 326.5H2132.5M2134.5 326.5H2143.5M2145.5 330.5H2154.5M2156.5 326.5H2164.5M2167.5 337.5H2175.5M2177.5 328.5H2186.5M2188.5 339.5H2197.5M2199.5 346.5H2208.5M2210.5 379.5H2218.5M2221.5 375.5H2229.5M2231.5 371.5H2240.5M2242.5 351.5H2251.5M2253.5 354.5H2262.5M2264.5 370.5H2272.5M2275.5 366.5H2283.5M2285.5 363.5H2294.5M2296.5 356.5H2305.5M2307.5 350.5H2316.5M2318.5 360.5H2326.5M2329.5 357.5H2337.5M2339.5 377.5H2348.5M2350.5 370.5H2359.5M2361.5 363.5H2370.5M2372.5 374.5H2380.5M2383.5 387.5H2391.5M2393.5 371.5H2402.5M2404.5 388.5H2413.5M2415.5 377.5H2424.5M2426.5 372.5H2434.5M2437.5 383.5H2445.5M2447.5 379.5H2456.5M2458.5 366.5H2467.5M2469.5 381.5H2478.5M2480.5 378.5H2488.5M2491.5 391.5H2499.5M2501.5 363.5H2510.5M2512.5 380.5H2521.5M2523.5 357.5H2532.5M2534.5 381.5H2542.5M2545.5 375.5H2553.5M2555.5 364.5H2564.5M2566.5 361.5H2575.5M2577.5 369.5H2586.5M2588.5 386.5H2596.5M2599.5 383.5H2607.5M2609.5 380.5H2618.5M2620.5 368.5H2629.5M2631.5 369.5H2640.5M2642.5 364.5H2650.5M2653.5 371.5H2661.5M2663.5 374.5H2672.5M2674.5 388.5H2683.5M2685.5 378.5H2694.5M2696.5 373.5H2704.5M2707.5 367.5H2715.5M2717.5 377.5H2726.5M2728.5 390.5H2737.5M2739.5 372.5H2748.5M2750.5 368.5H2758.5M2761.5 389.5H2769.5M2771.5 387.5H2780.5M2782.5 372.5H2791.5M2793.5 375.5H2802.5M2804.5 389.5H2812.5M2815.5 383.5H2823.5M2825.5 373.5H2834.5M2836.5 382.5H2845.5M2847.5 379.5H2856.5M2858.5 375.5H2866.5M2869.5 374.5H2877.5M2879.5 368.5H2888.5M2890.5 350.5H2899.5M2901.5 386.5H2910.5M2912.5 375.5H2920.5M2923.5 374.5H2931.5M2933.5 368.5H2942.5M2944.5 368.5H2953.5M2955.5 388.5H2964.5M2966.5 386.5H2974.5M2977.5 395.5H2985.5M2987.5 405.5H2996.5M2998.5 402.5H3007.5M3009.5 414.5H3018.5M3020.5 418.5H3028.5M3031.5 420.5H3039.5M3041.5 412.5H3050.5M3052.5 421.5H3061.5M3063.5 443.5H3072.5M3074.5 428.5H3082.5M3085.5 433.5H3093.5M3095.5 432.5H3104.5M3106.5 440.5H3115.5M3117.5 449.5H3126.5M3128.5 450.5H3136.5M3139.5 452.5H3147.5M3149.5 467.5H3158.5M3160.5 454.5H3169.5M3171.5 458.5H3180.5M3182.5 459.5H3190.5M3193.5 426.5H3201.5" fill="none" stroke="#444" stroke-opacity="0.71" stroke-width="1"/>
<polyline points="97.5,435.9 108.4,444.5 119.2,459.9 130,476 140.8,487.3 151.6,503.4 162.4,498.6 173.2,496.5 184,504.1 194.8,503 205.6,504.1 216.4,513 227.2,518.1 238,521.9 248.8,514 259.6,517.1 270.4,523.6 281.2,522.2 292,529.4 302.8,522.2 313.6,521.9 324.4,525.3 335.2,527 346,526 356.8,530.1 367.6,529.7 378.4,528 389.2,536.9 400,536.6 410.8,526.6 421.6,527.4 432.4,534.9 443.2,535.4 454,537.2 464.8,537.8 475.6,540.8 486.4,539.5 497.2,534.7 508,537.5 518.8,540.8 529.6,533.9 540.4,542.1 551.2,547.5 562,533.9 572.8,535.7 583.6,535.6 594.4,528.2 605.2,533.4 616,535.9 626.8,534.7 637.6,524.5 648.4,534.7 659.2,536.2 670,536.9 680.8,538.8 691.6,534.2 702.4,535.2 713.2,537.8 724,535.2 734.8,526.1 745.6,523 756.4,535.3 767.2,530.1 778,535 788.8,528.8 799.6,530.4 810.4,525.8 821.2,529.9 832,525.5 842.8,532.3 853.6,530.1 864.4,521.8 875.2,519 886,518.2 896.8,523.4 907.6,529.3 918.4,529.9 929.2,521.2 940,520.7 950.8,519 961.6,510.9 972.4,516.6 983.2,516.9 994,509.8 1004.8,499 1015.6,502.3 1026.4,504.2 1037.2,504.4 1048,494.1 1058.8,496.2 1069.6,488.3 1080.4,476 1091.2,487.6 1102,480.1 1112.8,467.1 1123.6,473.9 1134.4,480.4 1145.2,458.2 1156,472.9 1166.8,460.2 1177.6,479.4 1188.5,471.2 1199.3,473.6 1210.1,465 1220.9,452 1231.7,458.9 1242.5,456.5 1253.3,445.5 1264.1,462.6 1274.9,456.5 1285.7,443.1 1296.5,444.5 1307.3,404.4 1318.1,435.3 1328.9,415.4 1339.7,426.7 1350.5,393.3 1361.3,405 1372.1,398.1 1382.9,401.3 1393.7,375.9 1404.5,403.4 1415.3,416.4 1426.1,401.7 1436.9,392.3 1447.7,400.2 1458.5,390.9 1469.3,377.2 1480.1,374.5 1490.9,400.5 1501.7,411.3 1512.5,390.9 1523.3,400.5 1534.1,395.7 1544.9,396.7 1555.7,410.3 1566.5,418.8 1577.3,421.2 1588.1,396.4 1598.9,386.1 1609.7,418.8 1620.5,416.4 1631.3,420.5 1642.1,411.3 1652.9,421.2 1663.7,412.7 1674.5,410.3 1685.3,382.7 1696.1,375.2 1706.9,361.2 1717.7,380.3 1728.5,342.3 1739.3,354 1750.1,346.5 1760.9,332.1 1771.7,332.5 1782.5,326 1793.3,304.4 1804.1,270.5 1814.9,286.6 1825.7,253.1 1836.5,263.3 1847.3,252.4 1858.1,238 1868.9,206.3 1879.7,237 1890.5,221.4 1901.3,173.8 1912.1,156.7 1922.9,184.1 1933.7,185.1 1944.5,198.1 1955.3,152.6 1966.1,197.1 1976.9,133.8 1987.7,193.3 1998.5,171.4 2009.3,167.3 2020.1,156.3 2030.9,159.4 2041.7,196.4 2052.5,159.4 2063.3,176.5 2074.1,149.8 2084.9,184.1 2095.7,159.4 2106.5,148.1 2117.3,170.4 2128.1,181.3 2138.9,153.3 2149.7,173.1 2160.5,133.8 2171.3,146.4 2182.1,141.6 2192.9,154.3 2203.7,158.4 2214.5,143 2225.3,188.2 2236.1,168.3 2246.9,163.5 2257.8,154.3 2268.6,175.5 2279.4,201.9 2290.2,182.4 2301,222.4 2311.8,235.1 2322.6,167.3 2333.4,225.1 2344.2,196 2355,226.2 2365.8,201.2 2376.6,220.7 2387.4,254.4 2398.2,266.1 2409,302.4 2419.8,268.5 2430.6,270.5 2441.4,294.5 2452.2,309.2 2463,335.2 2473.8,283 2484.6,258.3 2495.4,267.5 2506.2,305.2 2517,316.2 2527.8,299 2538.6,314.1 2549.4,293.2 2560.2,319.2 2571,300.1 2581.8,274.4 2592.6,281.2 2603.4,301.8 2614.2,307.9 2625,300.1 2635.8,313.1 2646.6,293.2 2657.4,268.2 2668.2,274.4 2679,214.5 2689.8,266.9 2700.6,205.9 2711.4,316.2 2722.2,324 2733,257.3 2743.8,233.3 2754.6,215.5 2765.4,248.7 2776.2,229.6 2787,243.6 2797.8,203.2 2808.6,211.4 2819.4,217.9 2830.2,222.2 2841,241.4 2851.8,206.8 2862.6,237 2873.4,227.4 2884.2,235.9 2895,282.1 2905.8,253.1 2916.6,240.4 2927.4,253.4 2938.2,258.2 2949,253.7 2959.8,261.6 2970.6,270.2 2981.4,298.2 2992.2,299.9 3003,303 3013.8,295.8 3024.6,275.3 3035.4,307.1 3046.2,316.4 3057,279.8 3067.8,302.7 3078.6,347.9 3089.4,325.3 3100.2,338.6 3111,354 3121.8,350.6 3132.6,360.9 3143.4,369.1 3154.2,355.7 3165,339.3 3175.8,370.1 3186.6,380.7 3197.4,367.7" fill="none" stroke="#0000ff" stroke-width="2.1" stroke-linejoin="round"/>
<path d="M205 53.8V590.8M1181.9 53.8V590.8M2211.9 53.8V590.8M2950.9 53.8V590.8M3117.9 53.8V590.8" stroke="#4c72b0" stroke-width="2" fill="none"/>
</g>
<g font-family="DejaVu Sans, Liberation Sans, sans-serif" fill="#262626">
<text transform="translate(1647 24.3) scale(1 1.09)" font-size="16.6" text-anchor="middle">Comparison of Spot Counts on 2026.01.26 to Previous 21 Days</text>
<text transform="translate(1647 45.1) scale(1 1.09)" font-size="16.6" text-anchor="middle">10m</text>
<text transform="translate(83.2 574.1) scale(1 1.05)" font-size="15.1" text-anchor="end">0</text>
<text transform="translate(83.2 478.3) scale(1 1.05)" font-size="15.1" text-anchor="end">10000</text>
<text transform="translate(83.2 382.5) scale(1 1.05)" font-size="15.1" text-anchor="end">20000</text>
<text transform="translate(83.2 286.6) scale(1 1.05)" font-size="15.1" text-anchor="end">30000</text>
<text transform="translate(83.2 190.8) scale(1 1.05)" font-size="15.1" text-anchor="end">40000</text>
<text transform="translate(83.2 95) scale(1 1.05)" font-size="15.1" text-anchor="end">50000</text>
<text transform="translate(101.4 607.4) rotate(-90) scale(1 1.05)" font-size="15.1" text-anchor="end">00:00Z</text>
<text transform="translate(166.2 607.4) rotate(-90) scale(1 1.05)" font-size="15.1" text-anchor="end">00:30Z</text>
<text transform="translate(231 607.4) rotate(-90) scale(1 1.05)" font-size="15.1" text-anchor="end">01:00Z</text>
<text transform="translate(295.9 607.4) rotate(-90) scale(1 1.05)" font-size="15.1" text-anchor="end">01:30Z</text>
<text transform="translate(360.7 607.4) rotate(-90) scale(1 1.05)" font-size="15.1" text-anchor="end">02:00Z</text>
<text transform="translate(425.5 607.4) rotate(-90) scale(1 1.05)" font-size="15.1" text-anchor="end">02:30Z</text>
<text transform="translate(490.3 607.4) rotate(-90) scale(1 1.05)" font-size="15.1" text-anchor="end">03:00Z</text>
<text transform="translate(555.1 607.4) rotate(-90) scale(1 1.05)" font-size="15.1" text-anchor="end">03:30Z</text>
<text transform="translate(620 607.4) rotate(-90) scale(1 1.05)" font-size="15.1" text-anchor="end">04:00Z</text>
<text transform="translate(684.8 607.4) rotate(-90) scale(1 1.05)" font-size="15.1" text-anchor="end">04:30Z</text>
<text transform="translate(749.6 607.4) rotate(-90) scale(1 1.05)" font-size="15.1" text-anchor="end">05:00Z</text>
<text transform="translate(814.4 607.4) rotate(-90) scale(1 1.05)" font-size="15.1" text-anchor="end">05:30Z</text>
<text transform="translate(879.3 607.4) rotate(-90) scale(1 1.05)" font-size="15.1" text-anchor="end">06:00Z</text>
<text transform="translate(944.1 607.4) rotate(-90) scale(1 1.05)" font-size="15.1" text-anchor="end">06:30Z</text>
<text transform="translate(1008.9 607.4) rotate(-90) scale(1 1.05)" font-size="15.1" text-anchor="end">07:00Z</text>
<text transform="translate(1073.7 607.4) rotate(-90) scale(1 1.05)" font-size="15.1" text-anchor="end">07:30Z</text>
<text transform="translate(1138.5 607.4) rotate(-90) scale(1 1.05)" font-size="15.1" text-anchor="end">08:00Z</text>
<text transform="translate(1203.4 607.4) rotate(-90) scale(1 1.05)" font-size="15.1" text-anchor="end">08:30Z</text>
<text transform="translate(1268.2 607.4) rotate(-90) scale(1 1.05)" font-size="15.1" text-anchor="end">09:00Z</text>
<text transform="translate(1333 607.4) rotate(-90) scale(1 1.05)" font-size="15.1" text-anchor="end">09:30Z</text>
<text transform="translate(1397.8 607.4) rotate(-90) scale(1 1.05)" font-size="15.1" text-anchor="end">10:00Z</text>
<text transform="translate(1462.6 607.4) rotate(-90) scale(1 1.05)" font-size="15.1" text-anchor="end">10:30Z</text>
<text transform="translate(1527.5 607.4) rotate(-90) scale(1 1.05)" font-size="15.1" text-anchor="end">11:00Z</text>
<text transform="translate(1592.3 607.4) rotate(-90) scale(1 1.05)" font-size="15.1" text-anchor="end">11:30Z</text>
<text transform="translate(1657.1 607.4) rotate(-90) scale(1 1.05)" font-size="15.1" text-anchor="end">12:00Z</text>
<text transform="translate(1721.9 607.4) rotate(-90) scale(1 1.05)" font-size="15.1" text-anchor="end">12:30Z</text>
<text transform="translate(1786.7 607.4) rotate(-90) scale(1 1.05)" font-size="15.1" text-anchor="end">13:00Z</text>
<text transform="translate(1851.6 607.4) rotate(-90) scale(1 1.05)" font-size="15.1" text-anchor="end">13:30Z</text>
<text transform="translate(1916.4 607.4) rotate(-90) scale(1 1.05)" font-size="15.1" text-anchor="end">14:00Z</text>
<text transform="translate(1981.2 607.4) rotate(-90) scale(1 1.05)" font-size="15.1" text-anchor="end">14:30Z</text>
<text transform="translate(2046 607.4) rotate(-90) scale(1 1.05)" font-size="15.1" text-anchor="end">15:00Z</text>
<text transform="translate(2110.9 607.4) rotate(-90) scale(1 1.05)" font-size="15.1" text-anchor="end">15:30Z</text>
<text transform="translate(2175.7 607.4) rotate(-90) scale(1 1.05)" font-size="15.1" text-anchor="end">16:00Z</text>
<text transform="translate(2240.5 607.4) rotate(-90) scale(1 1.05)" font-size="15.1" text-anchor="end">16:30Z</text>
<text transform="translate(2305.3 607.4) rotate(-90) scale(1 1.05)" font-size="15.1" text-anchor="end">17:00Z</text>
<text transform="translate(2370.1 607.4) rotate(-90) scale(1 1.05)" font-size="15.1" text-anchor="end">17:30Z</text>
<text transform="translate(2435 607.4) rotate(-90) scale(1 1.05)" font-size="15.1" text-anchor="end">18:00Z</text>
<text transform="translate(2499.8 607.4) rotate(-90) scale(1 1.05)" font-size="15.1" text-anchor="end">18:30Z</text>
<text transform="translate(2564.6 607.4) rotate(-90) scale(1 1.05)" font-size="15.1" text-anchor="end">19:00Z</text>
<text transform="translate(2629.4 607.4) rotate(-90) scale(1 1.05)" font-size="15.1" text-anchor="end">19:30Z</text>
<text transform="translate(2694.2 607.4) rotate(-90) scale(1 1.05)" font-size="15.1" text-anchor="end">20:00Z</text>
<text transform="translate(2759.1 607.4) rotate(-90) scale(1 1.05)" font-size="15.1" text-anchor="end">20:30Z</text>
<text transform="translate(2823.9 607.4) rotate(-90) scale(1 1.05)" font-size="15.1" text-anchor="end">21:00Z</text>
<text transform="translate(2888.7 607.4) rotate(-90) scale(1 1.05)" font-size="15.1" text-anchor="end">21:30Z</text>
<text transform="translate(2953.5 607.4) rotate(-90) scale(1 1.05)" font-size="15.1" text-anchor="end">22:00Z</text>
<text transform="translate(3018.3 607.4) rotate(-90) scale(1 1.05)" font-size="15.1" text-anchor="end">22:30Z</text>
<text transform="translate(3083.2 607.4) rotate(-90) scale(1 1.05)" font-size="15.1" text-anchor="end">23:00Z</text>
<text transform="translate(3148 607.4) rotate(-90) scale(1 1.05)" font-size="15.1" text-anchor="end">23:30Z</text>
<text x="1647" y="680.9" font-size="20.83" text-anchor="middle">Time of Day</text>
<text transform="translate(25.8 322.4) rotate(-90)" font-size="20.83" text-anchor="middle">Spot Count</text>
<text transform="translate(208.7 105.3) scale(.955 1)" font-size="16.67">DM</text>
<text transform="translate(208.7 126.7) scale(.955 1)" font-size="16.67">Set</text>
<text transform="translate(1185.6 105.3) scale(.955 1)" font-size="16.67">PM</text>
<text transform="translate(1185.6 126.7) scale(.955 1)" font-size="16.67">Set</text>
<text transform="translate(2215.6 105.3) scale(.955 1)" font-size="16.67">JN</text>
<text transform="translate(2215.6 126.7) scale(.955 1)" font-size="16.67">Set</text>
<text transform="translate(2954.6 105.3) scale(.955 1)" font-size="16.67">FN</text>
<text transform="translate(2954.6 126.7) scale(.955 1)" font-size="16.67">Set</text>
<text transform="translate(3121.6 105.3) scale(.955 1)" font-size="16.67">EM</text>
<text transform="translate(3121.6 126.7) scale(.955 1)" font-size="16.67">Set</text>
</g>
</svg>
</body></html>
